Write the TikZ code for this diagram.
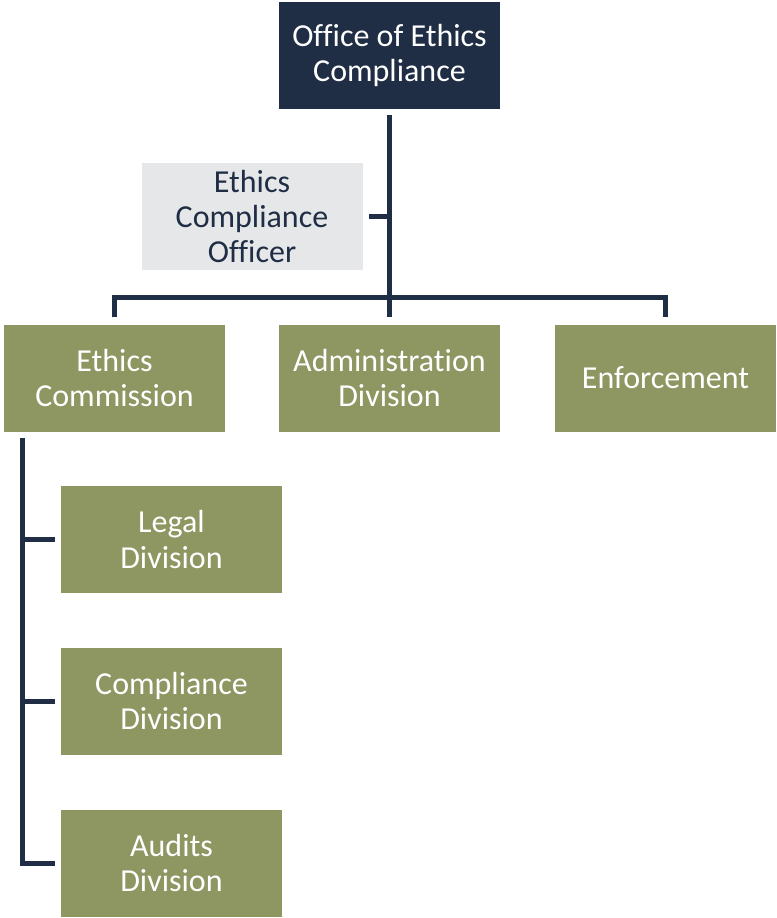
\documentclass[tikz,border=0pt]{standalone}
\usepackage{fontspec}
\setmainfont{Carlito}[Ligatures=NoCommon]
\definecolor{navy}{HTML}{1F2D45}
\definecolor{olive}{HTML}{8E9661}
\definecolor{lgray}{HTML}{E6E7E8}
\begin{document}
\begin{tikzpicture}[x=1bp,y=-1bp,
  box/.style={minimum width=221bp, minimum height=107bp, inner sep=0pt, align=center, font=\fontsize{32bp}{35bp}\selectfont},
  headbox/.style={box, fill=navy, text=white},
  staffbox/.style={box, fill=lgray, text=navy},
  unitbox/.style={box, fill=olive, text=white},
  link/.style={draw=navy, line width=5bp, line join=miter}]
\useasboundingbox (0,0) rectangle (777,918);
\node[headbox] (top) at (389.5,55.5) {Office of Ethics\\Compliance};
\node[staffbox] (officer) at (252,216.5) {Ethics\\Compliance\\Officer};
\node[unitbox] (ec) at (114.5,378) {Ethics\\Commission};
\node[unitbox] (ad) at (389.5,378) {Administration\\Division};
\node[unitbox] (en) at (665.5,378) {Enforcement};
\node[unitbox] (legal) at (171.5,539.5) {Legal\\Division};
\node[unitbox] (comp) at (171.5,701) {Compliance\\Division};
\node[unitbox] (aud) at (171.5,863) {Audits\\Division};
% top trunk
\draw[link] ([yshift=-6bp]top.south) -- ([yshift=7bp]ad.north);
\draw[link] ([xshift=6bp]officer.east) -- (top.south |- officer.east);
% bus
\draw[link] ([yshift=7bp]ec.north) -- ([yshift=27bp]ec.north) -- ([yshift=27bp]en.north) -- ([yshift=7bp]en.north);
% left spine
\coordinate (spine) at ([shift={(19bp,-6bp)}]ec.south west);
\draw[link] (spine) -- (spine |- aud.west) -- ([xshift=-6bp]aud.west);
\draw[link] (spine |- legal.west) -- ([xshift=-6bp]legal.west);
\draw[link] (spine |- comp.west) -- ([xshift=-6bp]comp.west);
\end{tikzpicture}
\end{document}
